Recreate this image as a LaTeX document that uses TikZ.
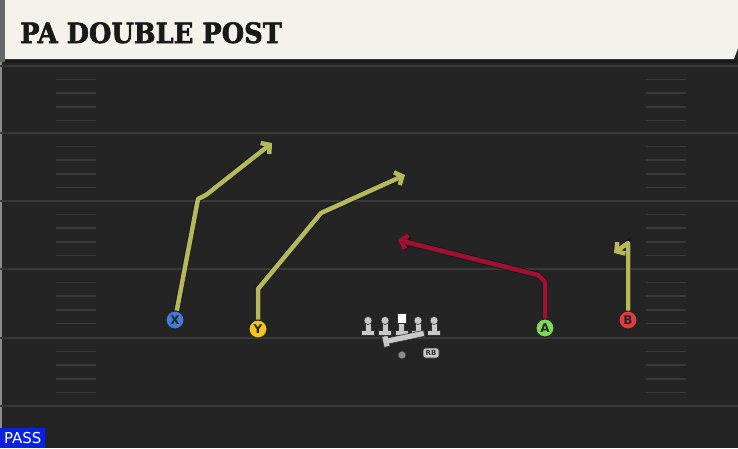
\documentclass[tikz,border=0pt]{standalone}
\usepackage{fontspec}
\setmainfont{DejaVu Sans}
\newfontfamily\titlefont[FakeBold=2, FakeStretch=0.92]{DejaVu Serif Bold}
\usetikzlibrary{arrows.meta}
\definecolor{field}{RGB}{36,36,36}
\definecolor{yardline}{RGB}{58,58,58}
\definecolor{banner}{RGB}{245,242,235}
\definecolor{routeolive}{RGB}{183,183,92}
\definecolor{routered}{RGB}{160,16,48}
\definecolor{xblue}{RGB}{66,124,214}
\definecolor{yyellow}{RGB}{245,197,24}
\definecolor{agreen}{RGB}{126,217,87}
\definecolor{bred}{RGB}{232,57,63}
\definecolor{olgrey}{RGB}{200,200,200}
\definecolor{passblue}{RGB}{10,34,224}

\begin{document}
\begin{tikzpicture}[x=1pt, y=-1pt,
        player/.style={circle, draw=black!85, line width=1pt, minimum size=18pt, inner sep=0pt, text=black!85, font=\bfseries\fontsize{12}{12}\selectfont},
        route/.style={line width=4.5pt, line join=round, preaction={draw=black!90, line width=6.3pt}, -{Straight Barb[length=6pt, width=14pt]}},
        lineman/.style={olgrey, draw=black!80, line width=0.6pt},
        hash/.style={yardline, line width=1.5pt}]
        \useasboundingbox (0,0) rectangle (738,448);
        \fill [field] (0,0) rectangle (738,448);
        \draw [black!45, line width=1.5pt] (1,62) -- (1,448);
        \foreach \y in {66,133,201,269,338,406}
            \draw [yardline, line width=2pt] (0,\y) -- (738,\y);
        \foreach \y in {66,133,201,269,338}
            \foreach \k in {1,2,3,4}
                \draw [hash] (56,\y+13.6*\k) -- (96,\y+13.6*\k) (646,\y+13.6*\k) -- (686,\y+13.6*\k);
        \fill [black!60] (0,0) rectangle (5,62);
        \fill [black!90] (5,58) rectangle (737,63);
        \fill [banner] (5,0) -- (738,0) -- (738,48) -- (734,59) -- (5,59) -- cycle;
        \node [anchor=base west, inner sep=0pt, text=black!90, font=\titlefont\fontsize{28}{28}\selectfont] (title) at (20,43) {PA DOUBLE POST};
        \node [player, fill=xblue] (X) at (175,320) {X};
        \node [player, fill=yyellow] (Y) at (258,329) {Y};
        \node [player, fill=agreen] (A) at (545,328) {A};
        \node [player, fill=bred] (B) at (628,320) {B};
        \coordinate (xbreak) at (198,199);
        \coordinate (xbend) at (206,195);
        \coordinate (xend) at (272,143);
        \coordinate (ystem) at (258,289);
        \coordinate (ybreak) at (321,213);
        \coordinate (yend) at (405,175);
        \coordinate (astem) at (545,282);
        \coordinate (abend) at (538,275);
        \coordinate (aend) at (398,240);
        \coordinate (btop) at (628,243);
        \coordinate (bend) at (614,253);
        \draw [route, routeolive] (X) -- (xbreak) -- (xbend) -- (xend);
        \draw [route, routeolive] (Y) -- (ystem) -- (ybreak) -- (yend);
        \draw [route, routered] (A) -- (astem) -- (abend) -- (aend);
        \draw [route, routeolive] (B) -- (btop) -- (bend);
        \foreach \x in {368,385,418,434} {
            \filldraw [lineman] (\x-3,322) -- (\x+3,322) -- (\x+3,330) -- (\x+6.5,330) -- (\x+6.5,335) -- (\x-6.5,335) -- (\x-6.5,330) -- (\x-3,330) -- cycle;
            \filldraw [lineman] (\x,320.5) circle (4);
        }
        \filldraw [lineman] (398.5,322) -- (404.5,322) -- (404.5,330) -- (408,330) -- (408,335) -- (395,335) -- (395,330) -- (398.5,330) -- cycle;
        \filldraw [white, draw=black!80, line width=0.6pt] (397,313) rectangle (406,323);
        \filldraw [black!45, draw=black!80, line width=0.6pt] (402,355) circle (4);
        \begin{scope}[shift={(383,342)}, rotate=12]
            \filldraw [lineman] (0,-5.5) -- (6,-5.5) -- (6,-3) -- (42,-3) -- (42,3) -- (6,3) -- (6,5.5) -- (0,5.5) -- cycle;
        \end{scope}
        \node [draw=black!80, fill=olgrey, rounded corners=2.5pt, line width=0.6pt, inner sep=0pt, minimum width=16pt, minimum height=10pt, text=black!80, font=\bfseries\fontsize{7}{7}\selectfont] (rb) at (431,353) {RB};
        \node [anchor=south west, fill=passblue, text=white, inner sep=0pt, minimum width=45pt, minimum height=20pt, font=\fontsize{15}{15}\selectfont] (pass) at (0,448) {PASS};
\end{tikzpicture}
\end{document}
